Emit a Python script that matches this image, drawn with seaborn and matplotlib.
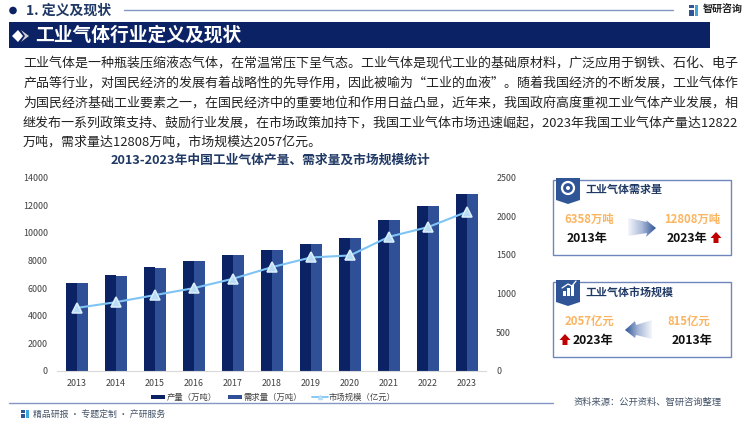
import numpy as np
import pandas as pd
import matplotlib
matplotlib.use('Agg')
import matplotlib.pyplot as plt
from matplotlib.patches import Polygon, Rectangle, Circle
import seaborn as sns

years = ['2013', '2014', '2015', '2016', '2017', '2018', '2019', '2020', '2021', '2022', '2023']
production = [6358, 6950, 7500, 7960, 8380, 8790, 9190, 9620, 10930, 11960, 12822]
demand = [6358, 6900, 7440, 7950, 8370, 8780, 9180, 9590, 10920, 11950, 12808]
market = [815, 890, 981, 1071, 1192, 1342, 1467, 1493, 1734, 1859, 2057]

bar_ticks = [0, 2000, 4000, 6000, 8000, 10000, 12000, 14000]
line_ticks = [0, 500, 1000, 1500, 2000, 2500]

paragraph = [
    '工业气体是一种瓶装压缩液态气体，在常温常压下呈气态。工业气体是现代工业的基础原材料，广泛应用于钢铁、石化、电子',
    '产品等行业，对国民经济的发展有着战略性的先导作用，因此被喻为“工业的血液”。随着我国经济的不断发展，工业气体作',
    '为国民经济基础工业要素之一，在国民经济中的重要地位和作用日益凸显，近年来，我国政府高度重视工业气体产业发展，相',
    '继发布一系列政策支持、鼓励行业发展，在市场政策加持下，我国工业气体市场迅速崛起，2023年我国工业气体产量达12822',
    '万吨，需求量达12808万吨，市场规模达2057亿元。',
]

NAVY = '#0b2265'
BLUE = '#2f5097'
SKY = '#7fc4f5'
FRAME = '#6d86bd'
ORANGE = '#fbb561'
RED = '#c00000'
GREY = '#404040'

sns.set_theme(style='white')
plt.rcParams['font.family'] = ['Noto Sans CJK SC', 'DejaVu Sans']
plt.rcParams['axes.unicode_minus'] = False

W, H = 750, 421
fig = plt.figure(figsize=(W / 100, H / 100), dpi=100)

# overlay in pixel coordinates for the slide furniture
bg = fig.add_axes([0, 0, 1, 1], zorder=3)
bg.set_xlim(0, W)
bg.set_ylim(H, 0)
bg.axis('off')
bg.patch.set_alpha(0)


def gradient_arrow(ax, pts, flip=False):
    # arrow that fades out towards its tail
    poly = Polygon(pts, closed=True, transform=ax.transData, fc='none', ec='none')
    ax.add_patch(poly)
    xs = [p[0] for p in pts]
    ys = [p[1] for p in pts]
    grad = np.linspace(0, 1, 64).reshape(1, -1)
    if flip:
        grad = grad[:, ::-1]
    cmap = matplotlib.colors.LinearSegmentedColormap.from_list('fade', ['#f4f6fb', '#a9b9d8', '#2f5597'])
    im = ax.imshow(grad, extent=[min(xs), max(xs), max(ys), min(ys)], cmap=cmap, aspect='auto', zorder=2)
    im.set_clip_path(poly)
    ax.set_xlim(0, W)
    ax.set_ylim(H, 0)


def red_arrow(ax, x, y):
    ax.add_patch(Polygon([(x - 5.5, y), (x, y - 6), (x + 5.5, y), (x + 2.5, y), (x + 2.5, y + 5),
                          (x - 2.5, y + 5), (x - 2.5, y)], closed=True, fc=RED, ec='none'))


def card(ax, top, bottom, title):
    ax.add_patch(Rectangle((553, top), 178, bottom - top, fc='white', ec=FRAME, lw=1))
    ax.add_patch(Polygon([(556, top - 2), (580, top - 2), (580, top + 20), (568, top + 24), (556, top + 20)],
                         closed=True, fc='#2f5597', ec='none'))
    ax.text(586, top + 10, title, fontsize=7.9, fontweight='bold', color='#1f3864', va='center', ha='left')


# header
bg.add_patch(Circle((13, 10.5), 3.8, fc=NAVY, ec='none'))
bg.text(26, 10.5, '1. 定义及现状', fontsize=10, fontweight='bold', color='#1f3864', va='center', ha='left')
bg.plot([124, 673], [10, 10], color='#8496c4', lw=1)
bg.add_patch(Rectangle((9, 22), 701, 26, fc=NAVY, ec='none'))
bg.add_patch(Polygon([(12, 36), (18, 30), (23, 36), (18, 42)], closed=True, fc='white', ec='none'))
bg.add_patch(Polygon([(21, 30), (29, 36), (21, 42), (25, 36)], closed=True, fc='#d0d0d0', ec='none'))
bg.text(35, 35, '工业气体行业定义及现状', fontsize=13.5, fontweight='bold', color='white', va='center', ha='left')

# logo
bg.add_patch(Rectangle((689, 5), 5, 3, fc='#2f5597', ec='none'))
bg.add_patch(Rectangle((689, 10), 5, 6, fc='#2f5597', ec='none'))
bg.add_patch(Rectangle((695, 5), 3, 11, fc='#41a5dc', ec='none'))
bg.text(703, 10, '智研咨询', fontsize=7.2, fontweight='bold', color='#222222', va='center', ha='left')

# paragraph
for y, line in zip([63, 83, 103, 123, 142], paragraph):
    bg.text(23, y, line, fontsize=9.35, color='#222222', va='center', ha='left')

# chart title
bg.text(270, 160, '2013-2023年中国工业气体产量、需求量及市场规模统计', fontsize=9.2, fontweight='bold',
        color='#1f3864', va='center', ha='center')

# bars
ax = fig.add_axes([57.5 / W, 1 - 371 / H, 429 / W, 193.5 / H], zorder=1)
df = pd.DataFrame({
    'year': years * 2,
    'value': production + demand,
    'series': ['产量（万吨）'] * len(years) + ['需求量（万吨）'] * len(years),
})
sns.barplot(data=df, x='year', y='value', hue='series', palette=[NAVY, BLUE], width=0.56, gap=0,
            saturation=1, edgecolor='none', legend=False, ax=ax)
ax.set_ylim(0, 14000)
ax.set_yticks(bar_ticks)
ax.set_xlabel('')
ax.set_ylabel('')
ax.tick_params(axis='both', length=0, labelsize=6.4, labelcolor=GREY, pad=6)
ax.tick_params(axis='y', pad=7)
sns.despine(ax=ax, left=True)
ax.spines['bottom'].set_color('#d9d9d9')
ax.spines['bottom'].set_linewidth(0.8)

# market size line
ax2 = ax.twinx()
sns.pointplot(x=years, y=market, color=SKY, marker='^', markersize=6.5, linewidth=1.5,
              markeredgecolor='#dbeefb', markerfacecolor='#b9dcf5', ax=ax2)
ax2.set_ylim(0, 2500)
ax2.set_yticks(line_ticks)
ax2.set_ylabel('')
ax2.tick_params(axis='y', length=0, labelsize=6.4, labelcolor=GREY, pad=7, labelright=True)
for s in ax2.spines.values():
    s.set_visible(False)

# legend
legend_y = 397
bg.add_patch(Rectangle((151, legend_y - 2), 14, 4, fc=NAVY, ec='none'))
bg.text(167, legend_y, '产量（万吨）', fontsize=6.0, color=GREY, va='center', ha='left')
bg.add_patch(Rectangle((228, legend_y - 2), 14, 4, fc=BLUE, ec='none'))
bg.text(244, legend_y, '需求量（万吨）', fontsize=6.0, color=GREY, va='center', ha='left')
bg.plot([312, 328], [legend_y, legend_y], color=SKY, lw=1.3)
bg.plot([320], [legend_y], marker='^', ms=3, color='#b9dcf5')
bg.text(329, legend_y, '市场规模（亿元）', fontsize=6.0, color=GREY, va='center', ha='left')

# demand card
card(bg, 180, 255, '工业气体需求量')
bg.add_patch(Circle((568, 188), 6, fc='none', ec='white', lw=1.6))
bg.add_patch(Circle((568, 188), 2, fc='white', ec='none'))
bg.text(589, 219.5, '6358万吨', fontsize=8.2, fontweight='bold', color=ORANGE, va='center', ha='center')
bg.text(587.5, 238.5, '2013年', fontsize=8.8, fontweight='bold', color='#111111', va='center', ha='center')
bg.text(692, 219.5, '12808万吨', fontsize=8.2, fontweight='bold', color=ORANGE, va='center', ha='center')
bg.text(687, 238.5, '2023年', fontsize=8.8, fontweight='bold', color='#111111', va='center', ha='center')
red_arrow(bg, 716, 238)
gradient_arrow(bg, [(628, 218), (647, 222), (646, 220), (656, 228), (646, 237), (647, 233), (628, 236)])

# market card
card(bg, 282, 357, '工业气体市场规模')
for x0, h0 in zip([563, 567, 571], [5, 8, 11]):
    bg.add_patch(Rectangle((x0, 296 - h0), 3, h0, fc='white', ec='none'))
bg.plot([562, 568, 572, 576], [288, 284, 286, 281], color='white', lw=0.9)
bg.text(589, 322, '2057亿元', fontsize=8.2, fontweight='bold', color=ORANGE, va='center', ha='center')
bg.text(593, 340.5, '2023年', fontsize=8.8, fontweight='bold', color='#111111', va='center', ha='center')
bg.text(689, 322, '815亿元', fontsize=8.2, fontweight='bold', color=ORANGE, va='center', ha='center')
bg.text(692, 340.5, '2013年', fontsize=8.8, fontweight='bold', color='#111111', va='center', ha='center')
red_arrow(bg, 565, 340)
gradient_arrow(bg, [(652, 320), (636, 325), (635, 321), (625, 330), (635, 338), (636, 335), (652, 339)], flip=True)

# footer
bg.plot([9, 553], [403, 403], color='#8496c4', lw=1)
bg.add_patch(Rectangle((21, 410), 4, 2.5, fc='#2f5597', ec='none'))
bg.add_patch(Rectangle((21, 414), 4, 4, fc='#2f5597', ec='none'))
bg.add_patch(Rectangle((26, 410), 3, 8, fc='#41a5dc', ec='none'))
bg.text(33, 414, '精品研报 · 专题定制 · 产研服务', fontsize=6.4, color='#44546a', va='center', ha='left')
bg.text(574, 402, '资料来源：公开资料、智研咨询整理', fontsize=6.7, color='#44546a', va='center', ha='left')

fig.savefig('out.png', dpi=100)
